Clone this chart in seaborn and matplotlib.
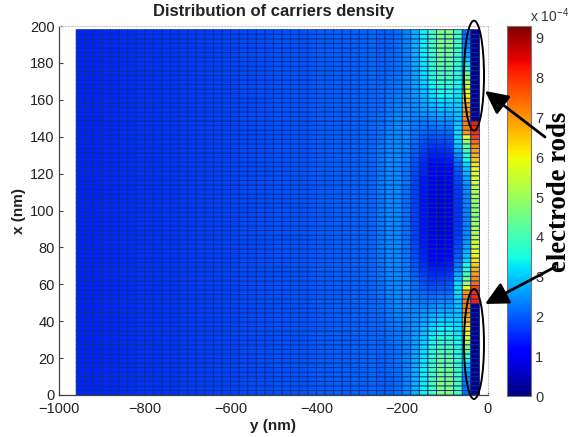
#!/usr/bin/env python
"""Distribution of carriers density, read off the published figure (values in 1e-4)."""
# %% import packages
from matplotlib.patches import Ellipse
import matplotlib.pyplot as plt
import numpy as np
import seaborn as sns

# %% values
y_cols = list(range(-960, -20, 20))
x_ticks = list(range(0, 201, 20))
y_ticks = [-1000, -800, -600, -400, -200, 0]
y_tick_labels = ['\u22121000', '\u2212800', '\u2212600', '\u2212400', '\u2212200', '0']
cbar_ticks = [0, 1, 2, 3, 4, 5, 6, 7, 8, 9]
row_step = 2.475

# columns from -960 on, the same along the whole x range
left_profile = [1.50, 1.51, 1.52, 1.54, 1.55, 1.57, 1.58, 1.60, 1.61, 1.63, 1.64, 1.66,
                1.68, 1.70, 1.72, 1.74, 1.76, 1.78, 1.80, 1.82, 1.84, 1.86, 1.88, 1.90,
                1.92, 1.94, 1.96, 1.98, 2.00, 2.02, 2.04, 2.06, 2.08, 2.10, 2.12]

# last 12 columns, rows from x = 0 up to x = 100 (the lower half of the device)
right_block = [
    [2.05, 2.10, 2.20, 2.40, 2.80, 3.40, 4.05, 4.70, 4.70, 4.00, 2.20, 0.10],
    [2.05, 2.10, 2.20, 2.40, 2.80, 3.40, 4.05, 4.70, 4.70, 4.00, 2.25, 0.10],
    [2.05, 2.10, 2.20, 2.40, 2.80, 3.40, 4.05, 4.70, 4.70, 4.00, 2.30, 0.10],
    [2.05, 2.10, 2.20, 2.40, 2.80, 3.40, 4.05, 4.65, 4.65, 3.95, 2.40, 0.10],
    [2.05, 2.10, 2.20, 2.40, 2.80, 3.40, 4.00, 4.60, 4.60, 3.95, 2.55, 0.10],
    [2.06, 2.11, 2.21, 2.40, 2.80, 3.38, 3.95, 4.55, 4.55, 3.90, 2.75, 0.10],
    [2.06, 2.12, 2.22, 2.40, 2.78, 3.35, 3.90, 4.50, 4.50, 3.85, 3.05, 0.10],
    [2.07, 2.13, 2.23, 2.40, 2.76, 3.32, 3.85, 4.40, 4.40, 3.80, 3.40, 0.10],
    [2.07, 2.14, 2.24, 2.40, 2.74, 3.28, 3.80, 4.30, 4.30, 3.75, 3.85, 0.10],
    [2.08, 2.15, 2.25, 2.40, 2.72, 3.24, 3.72, 4.20, 4.20, 3.70, 4.30, 0.10],
    [2.09, 2.16, 2.26, 2.40, 2.70, 3.18, 3.64, 4.08, 4.08, 3.62, 4.75, 0.10],
    [2.10, 2.18, 2.28, 2.40, 2.68, 3.12, 3.54, 3.95, 3.95, 3.55, 5.20, 0.10],
    [2.11, 2.20, 2.30, 2.42, 2.66, 3.05, 3.44, 3.80, 3.80, 3.45, 5.60, 0.10],
    [2.12, 2.22, 2.32, 2.42, 2.64, 2.98, 3.32, 3.65, 3.65, 3.38, 5.90, 0.10],
    [2.13, 2.24, 2.34, 2.42, 2.60, 2.90, 3.20, 3.48, 3.48, 3.30, 6.10, 0.10],
    [2.14, 2.26, 2.36, 2.42, 2.56, 2.82, 3.06, 3.30, 3.30, 3.20, 6.40, 0.10],
    [2.16, 2.28, 2.38, 2.44, 2.52, 2.72, 2.92, 3.12, 3.12, 3.12, 6.70, 0.10],
    [2.17, 2.30, 2.40, 2.44, 2.48, 2.62, 2.78, 2.95, 2.95, 3.05, 6.90, 0.10],
    [2.18, 2.32, 2.42, 2.44, 2.44, 2.52, 2.62, 2.78, 2.78, 3.00, 7.00, 0.10],
    [2.20, 2.34, 2.44, 2.44, 2.40, 2.42, 2.48, 2.62, 2.62, 2.95, 7.10, 0.10],
    [2.20, 2.36, 2.44, 2.44, 2.36, 2.32, 2.34, 2.46, 2.46, 3.05, 7.20, 8.20],
    [2.22, 2.38, 2.46, 2.44, 2.32, 2.24, 2.20, 2.30, 2.30, 3.15, 7.20, 8.10],
    [2.22, 2.40, 2.46, 2.44, 2.28, 2.14, 2.06, 2.14, 2.16, 3.25, 7.00, 8.00],
    [2.24, 2.40, 2.46, 2.44, 2.24, 2.02, 1.92, 1.98, 2.02, 3.30, 5.90, 7.80],
    [2.24, 2.42, 2.46, 2.42, 2.18, 1.92, 1.78, 1.84, 1.90, 3.20, 5.00, 7.40],
    [2.26, 2.42, 2.46, 2.40, 2.12, 1.82, 1.64, 1.68, 1.76, 3.00, 4.50, 7.10],
    [2.26, 2.42, 2.46, 2.38, 2.06, 1.74, 1.52, 1.54, 1.62, 2.75, 4.10, 6.90],
    [2.27, 2.44, 2.46, 2.36, 2.00, 1.66, 1.40, 1.42, 1.50, 2.50, 3.80, 6.70],
    [2.27, 2.44, 2.46, 2.34, 1.96, 1.58, 1.28, 1.28, 1.38, 2.30, 3.50, 6.50],
    [2.28, 2.44, 2.46, 2.32, 1.92, 1.52, 1.18, 1.16, 1.26, 2.15, 3.20, 6.20],
    [2.28, 2.44, 2.45, 2.30, 1.88, 1.46, 1.10, 1.04, 1.16, 2.00, 3.00, 6.00],
    [2.29, 2.44, 2.45, 2.28, 1.84, 1.42, 1.04, 0.96, 1.08, 1.90, 2.85, 5.90],
    [2.29, 2.45, 2.45, 2.26, 1.82, 1.38, 0.98, 0.90, 1.00, 1.82, 2.70, 5.80],
    [2.30, 2.45, 2.45, 2.26, 1.80, 1.36, 0.94, 0.85, 0.95, 1.75, 2.60, 5.60],
    [2.30, 2.45, 2.45, 2.24, 1.78, 1.34, 0.92, 0.82, 0.92, 1.70, 2.50, 5.50],
    [2.30, 2.45, 2.45, 2.24, 1.78, 1.32, 0.90, 0.79, 0.89, 1.66, 2.45, 5.30],
    [2.30, 2.45, 2.45, 2.24, 1.76, 1.32, 0.89, 0.77, 0.87, 1.64, 2.40, 5.20],
    [2.30, 2.45, 2.45, 2.22, 1.76, 1.30, 0.88, 0.76, 0.86, 1.62, 2.40, 5.10],
    [2.30, 2.45, 2.45, 2.22, 1.75, 1.30, 0.87, 0.75, 0.85, 1.60, 2.40, 5.00],
    [2.30, 2.45, 2.45, 2.22, 1.75, 1.30, 0.87, 0.75, 0.85, 1.60, 2.40, 5.00],
]

# %% build the matrix, the device is symmetric around x = 100
half = np.hstack([np.tile(left_profile, (len(right_block), 1)), np.array(right_block)])
density = np.vstack([half, half[::-1]])

# %% plot
sns.set_style('white')
plt.rcParams['font.family'] = ['Liberation Sans', 'DejaVu Sans']
plt.rcParams['mathtext.default'] = 'regular'

W, H = 570, 437
fig = plt.figure(figsize=(W / 100, H / 100), dpi=100)
ax = fig.add_axes([59 / W, 1 - 395 / H, 429 / W, 369 / H])
cax = fig.add_axes([507 / W, 1 - 396 / H, 24 / W, 370 / H])

# antialiased and unsnapped, otherwise the grid lines alias into uneven bands
sns.heatmap(density, ax=ax, cbar_ax=cax, cmap='jet', vmin=0, vmax=9.3,
            linewidths=0.6, linecolor='#0a2c88', xticklabels=False, yticklabels=False,
            antialiased=True, snap=False)

# heatmap works in cell numbers, so convert the nm ticks to those
x0 = y_cols[0]
ax.set_xlim((y_ticks[0] - x0) / 20, (y_ticks[-1] - x0) / 20)
ax.set_ylim(0, 200 / row_step)
ax.set_xticks([(t - x0) / 20 for t in y_ticks], y_tick_labels)
ax.set_yticks([t / row_step for t in x_ticks], [str(t) for t in x_ticks], rotation=0)
ax.tick_params(direction='in', length=3, width=0.8, color='#444444', labelsize=10.5,
               labelcolor='#222222', pad=3, bottom=True, left=True)
ax.tick_params(axis='x', pad=5)

for side in ['left', 'bottom']:
    ax.spines[side].set_visible(True)
    ax.spines[side].set_color('#444444')
    ax.spines[side].set_linewidth(0.9)
for side in ['top', 'right']:
    ax.spines[side].set_visible(True)
    ax.spines[side].set_color('#c8c8c8')
    ax.spines[side].set_linewidth(0.8)
    ax.spines[side].set_linestyle(':')

ax.set_xlabel('y (nm)', fontweight='bold', fontsize=11, labelpad=2, color='#222222')
ax.set_ylabel('x (nm)', fontweight='bold', fontsize=11, labelpad=3, color='#222222')
ax.set_title('Distribution of carriers density', fontweight='bold', fontsize=12, pad=7,
             color='#222222')

cbar = ax.collections[0].colorbar
cbar.set_ticks(cbar_ticks)
cax.tick_params(direction='in', length=3, width=0.7, color='#555555', labelsize=10.5,
                labelcolor='#333333', pad=3, right=True, left=False)
cbar.outline.set_visible(True)
cbar.outline.set_edgecolor('#777777')
cbar.outline.set_linewidth(0.8)

# %% annotations on top, placed in picture pixels
over = fig.add_axes([0, 0, 1, 1], facecolor='none')
over.set_xlim(0, W)
over.set_ylim(H, 0)
over.axis('off')

over.add_patch(Ellipse((474, 75.7), 20, 110, fill=False, edgecolor='black', lw=1.4))
over.add_patch(Ellipse((474, 344), 20, 110, fill=False, edgecolor='black', lw=1.4))
for tail, head in [((545, 137), (485, 91)), ((555, 267), (485, 304))]:
    over.annotate('', xy=head, xytext=tail,
                  arrowprops=dict(arrowstyle='-|>,head_length=1.0,head_width=0.5', color='black',
                                  lw=2.0, shrinkA=0, shrinkB=0, mutation_scale=14))
over.text(559, 192, 'electrode rods', rotation=90, ha='center', va='center',
          family='Liberation Serif', fontweight='bold', fontsize=19.3, color='black')
over.text(530, 16, r'x 10$^{-4}$', ha='left', va='center', fontsize=10, color='#333333')

fig.savefig('out.png', dpi=100)
